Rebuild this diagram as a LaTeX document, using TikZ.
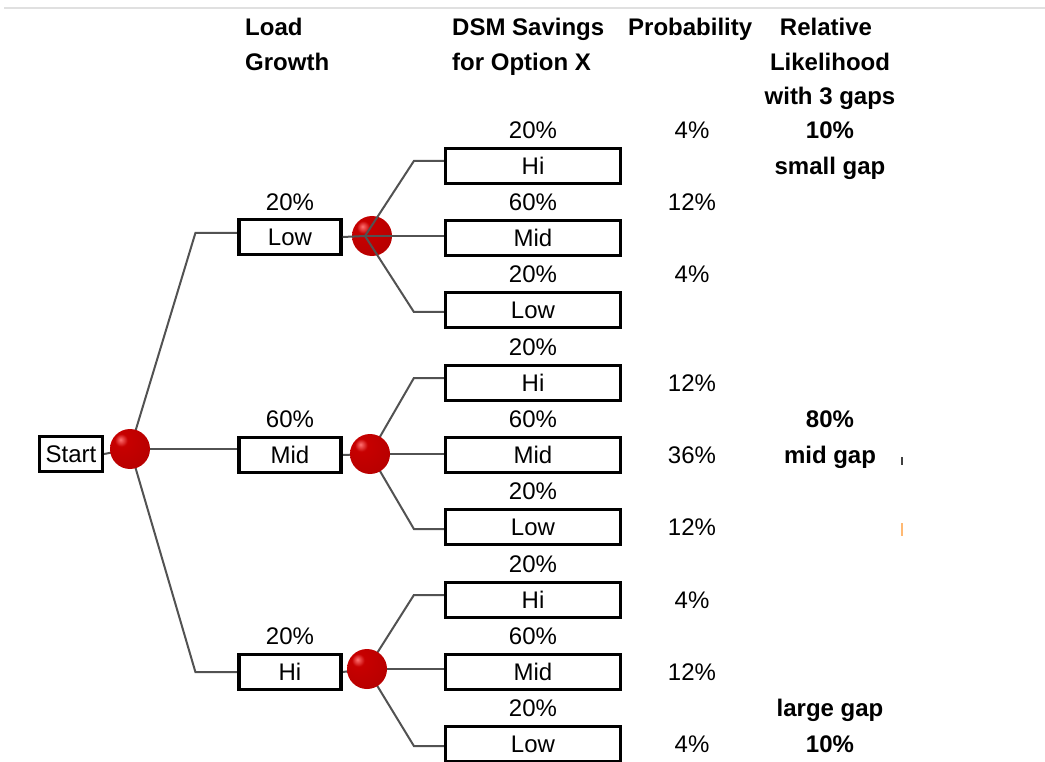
\documentclass[tikz,border=0pt]{standalone}
\usepackage{fontspec}
\setmainfont{Liberation Sans}
\usetikzlibrary{backgrounds}
% red sphere with a small highlight at the upper left
\pgfdeclareradialshading{redsphere}{\pgfpoint{-12bp}{12bp}}{%
  color(0bp)=(red!55!white);
  color(8bp)=(red!78!black);
  color(35bp)=(red!72!black);
  color(58bp)=(red!40!black);
  color(100bp)=(red!40!black)}
\begin{document}
\begin{tikzpicture}[x=1pt,y=-1pt,
  txt/.style={inner sep=0pt,text height=17pt,text depth=0pt,font=\fontsize{24}{28}\selectfont},
  hd/.style={inner sep=0pt,text height=17pt,text depth=0pt,font=\fontsize{24}{28}\selectfont\bfseries},
  box/.style={draw=black,line width=3.2pt,fill=white,minimum height=35pt,inner sep=0pt,
              text height=17pt,text depth=0pt,font=\fontsize{24}{28}\selectfont},
  boxA/.style={box,minimum width=102pt},
  boxB/.style={box,minimum width=175pt},
  chance/.style={circle,inner sep=0pt,minimum size=40pt,shading=redsphere},
  link/.style={draw=black!68,line width=2pt}
]
\useasboundingbox (0,0) rectangle (1045,762);
\draw[black!12,line width=2pt] (4,8) -- (1045,8);

% column headings
\node[hd,anchor=west] at (245,27.5) {Load};
\node[hd,anchor=west] at (245,62) {Growth};
\node[hd,anchor=west] at (452,27.5) {DSM Savings};
\node[hd,anchor=west] at (452,62) {for Option X};
\node[hd,anchor=west] at (628,27.5) {Probability};
\node[hd] at (826,27.5) {Relative};
\node[hd] at (830,62) {Likelihood};
\node[hd] at (830,96) {with 3 gaps};

% root
\node[box,minimum width=63pt] (start) at (71,454) {Start};
\node[chance] (s0) at (130,449) {};

% load growth branches
\node[boxA] (aL) at (290,237) {Low};
\node[boxA] (aM) at (290,455) {Mid};
\node[boxA] (aH) at (290,672) {Hi};
\node[txt] at (290,202) {20\%};
\node[txt] at (290,419) {60\%};
\node[txt] at (290,636) {20\%};

% chance points for DSM savings
\node[chance] (s1) at (372,236) {};
\node[chance] (s2) at (370,454) {};
\node[chance] (s3) at (367,669) {};

% DSM savings branches
\foreach \g/\y in {1/166,2/383,3/600}{
  \node[boxB] (b\g h) at (533,\y) {Hi};
  \node[boxB] (b\g m) at (533,\y+72) {Mid};
  \node[boxB] (b\g l) at (533,\y+144) {Low};
  \node[txt] at (533,\y-36) {20\%};
  \node[txt] at (533,\y+36) {60\%};
  \node[txt] at (533,\y+108) {20\%};
}

% connectors
\begin{pgfonlayer}{background}
  \draw[link] (start.east) -- (s0.center);
  \draw[link] (s0.center) -- ([xshift=-42pt,yshift=4pt]aL.west) -- ([yshift=4pt]aL.west);
  \draw[link] (s0.center) -- ([yshift=6pt]aM.west);
  \draw[link] (s0.center) -- ([xshift=-42pt]aH.west) -- (aH.west);
  \draw[link] (aM.east) -- (s2.center);
  \draw[link] (aH.east) -- (s3.center);
  \foreach \g in {2,3}{
    \draw[link] (s\g.center) -- ([xshift=-30pt,yshift=5pt]b\g h.west) -- ([yshift=5pt]b\g h.west);
    \draw[link] (s\g.center) -- (s\g.center -| b\g m.west);
    \draw[link] (s\g.center) -- ([xshift=-30pt,yshift=-2pt]b\g l.west) -- ([yshift=-2pt]b\g l.west);
  }
\end{pgfonlayer}
\draw[link] (aL.east) -- ([xshift=-7pt]s1.center);
\draw[link] ([xshift=-7pt]s1.center) -- ([xshift=-30pt,yshift=5pt]b1h.west) -- ([yshift=5pt]b1h.west);
\draw[link] ([xshift=-7pt]s1.center) -- (s1.center -| b1m.west);
\draw[link] ([xshift=-7pt]s1.center) -- ([xshift=-30pt,yshift=-2pt]b1l.west) -- ([yshift=-2pt]b1l.west);

% probability column
\foreach \y/\p in {130/4,202/12,274/4,383/12,455/36,527/12,600/4,672/12,744/4}{
  \node[txt] at (692,\y) {\p\%};
}

% relative likelihood column
\node[hd] at (830,130) {10\%};
\node[hd] at (830,166) {small gap};
\node[hd] at (830,419) {80\%};
\node[hd] at (830,455) {mid gap};
\node[hd] at (830,708) {large gap};
\node[hd] at (830,744) {10\%};

% stray marks at the right
\draw[black!75,line width=2pt] (902,457) -- (902,465);
\draw[orange!55,line width=1.5pt] (902,523) -- (902,536);
\end{tikzpicture}
\end{document}
